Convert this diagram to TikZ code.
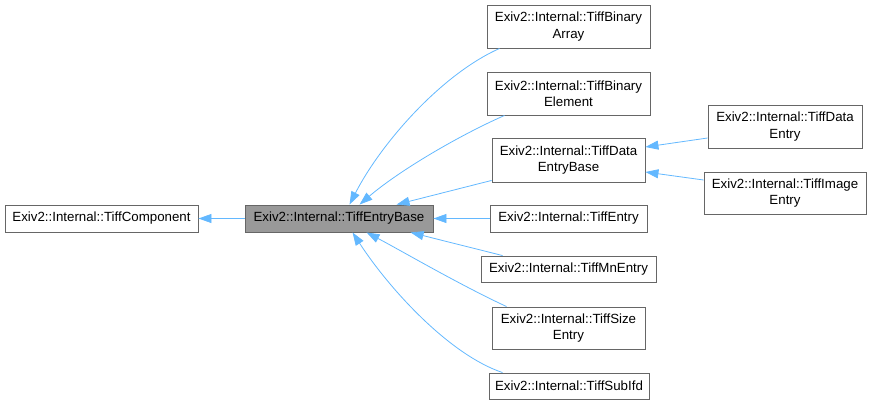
\documentclass[tikz,border=0pt]{standalone}
\usepackage{fontspec}
\setmainfont{Liberation Sans}
\usetikzlibrary{arrows.meta}

% colours of the graph
\definecolor{boxline}{RGB}{102,102,102}
\definecolor{basefill}{RGB}{153,153,153}
\definecolor{edgecol}{RGB}{99,184,255}

\tikzset{
  classbox/.style={draw=boxline, fill=white, line width=0.9pt, align=center, inner sep=0pt,
    font=\fontsize{13.3pt}{16.5pt}\selectfont},
  inherit/.style={draw=edgecol, line width=0.8pt,
    -{Triangle[length=13pt,width=9pt,fill=edgecol]}}
}

\begin{document}
\begin{tikzpicture}[x=1pt, y=-1pt]

  % ==========================================
  % bounding box
  % ==========================================
  \useasboundingbox (0,0) rectangle (871,405);

  % ==========================================
  % classes
  % ==========================================
  \node[classbox, minimum width=193pt, minimum height=27pt] (comp) at (101.5,218.5) {Exiv2::Internal::TiffComponent};
  \node[classbox, fill=basefill, minimum width=188pt, minimum height=27pt] (entrybase) at (339,218.5) {Exiv2::Internal::TiffEntryBase};

  \node[classbox, minimum width=163pt, minimum height=43pt] (binarray) at (568.5,26.5) {Exiv2::Internal::TiffBinary\\Array};
  \node[classbox, minimum width=163pt, minimum height=43pt] (binelem) at (568.5,93.5) {Exiv2::Internal::TiffBinary\\Element};
  \node[classbox, minimum width=153pt, minimum height=44pt] (database) at (568.5,160) {Exiv2::Internal::TiffData\\EntryBase};
  \node[classbox, minimum width=157pt, minimum height=27pt] (entry) at (568.5,218.5) {Exiv2::Internal::TiffEntry};
  \node[classbox, minimum width=175pt, minimum height=26pt] (mnentry) at (568.5,269) {Exiv2::Internal::TiffMnEntry};
  \node[classbox, minimum width=153pt, minimum height=42pt] (sizeentry) at (568.5,328) {Exiv2::Internal::TiffSize\\Entry};
  \node[classbox, minimum width=160pt, minimum height=26pt] (subifd) at (569,386) {Exiv2::Internal::TiffSubIfd};

  \node[classbox, minimum width=154pt, minimum height=43pt] (dataentry) at (785,126.5) {Exiv2::Internal::TiffData\\Entry};
  \node[classbox, minimum width=162pt, minimum height=42pt] (imageentry) at (785,193) {Exiv2::Internal::TiffImage\\Entry};

  % ==========================================
  % inheritance edges
  % ==========================================
  \draw[inherit] (entrybase.west) -- (comp.east);

  \draw[inherit] ([xshift=13pt]binarray.south west) .. controls (440,75) and (380,145) .. ([xshift=105pt]entrybase.north west);
  \draw[inherit] ([xshift=18pt]binelem.south west) .. controls (460,135) and (400,170) .. ([xshift=115pt]entrybase.north west);
  \draw[inherit] ([yshift=2pt]database.south west) -- ([xshift=152pt]entrybase.north west);
  \draw[inherit] (entry.west) -- (entrybase.east);
  \draw[inherit] ([xshift=22pt]mnentry.north west) -- ([xshift=166pt]entrybase.south west);
  \draw[inherit] ([xshift=15pt]sizeentry.north west) .. controls (460,285) and (400,250) .. ([xshift=122pt]entrybase.south west);
  \draw[inherit] ([xshift=14pt]subifd.north west) .. controls (450,355) and (390,290) .. ([xshift=108pt]entrybase.south west);

  \draw[inherit] ([yshift=-11.5pt]dataentry.west) -- ([yshift=13pt]database.east);
  \draw[inherit] ([yshift=13pt]imageentry.west) -- ([yshift=-12pt]database.east);

\end{tikzpicture}
\end{document}
